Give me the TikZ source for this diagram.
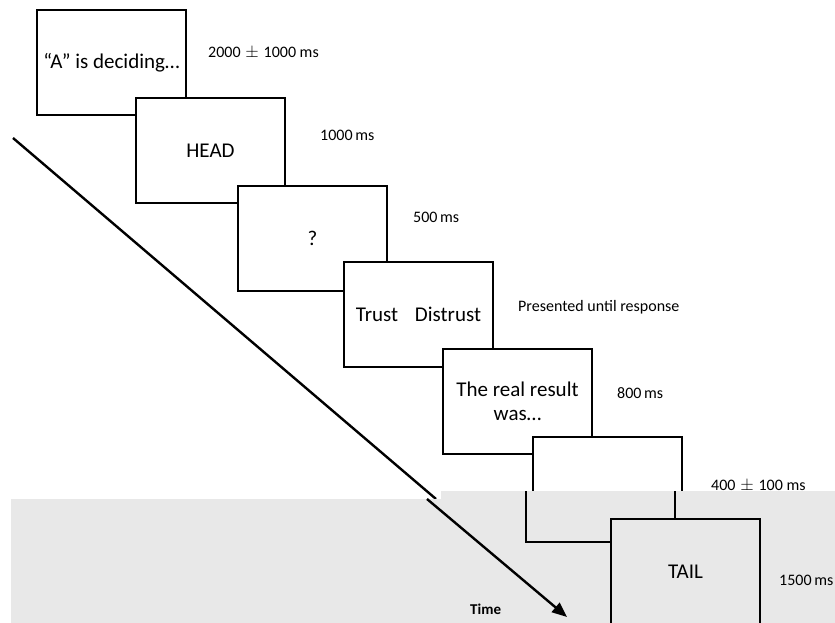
\documentclass[tikz,border=0pt]{standalone}
\usepackage{fontspec}
\setmainfont{Carlito}
\usetikzlibrary{arrows.meta}
\definecolor{bggray}{RGB}{232,232,232}
\newcommand{\pmsign}{\hspace{0.3em}{\fontsize{19}{19}\selectfont$\pm$}\hspace{0.3em}}
\tikzset{
  screen/.style={draw=black, line width=2.8pt, fill=white, minimum width=149pt, minimum height=105pt, inner sep=0pt, outer sep=0pt, font=\fontsize{21}{24}\selectfont, align=center},
  dur/.style={anchor=west, inner sep=0pt, font=\fontsize{16}{19}\selectfont},
  timeline/.style={line width=2.4pt}
}
\begin{document}
\begin{tikzpicture}[x=1pt,y=-1pt]
\useasboundingbox (0,0) rectangle (835,623);
% time axis upper part
\coordinate (t0) at (13,138);
\coordinate (t1) at (436,499);
\draw[timeline] (t0) -- (t1);
% screens
\node[screen] (s1) at (111.5,62.5) {“A” is deciding…};
\node[screen] (s2) at (210.5,150.5) {HEAD};
\node[screen] (s3) at (312.5,238.5) {?};
\node[screen] (s4) at (418.5,314.5) {Trust\hspace{0.8em}Distrust};
\node[screen] (s5) at (517.5,401.5) {The real result\\was…};
\node[screen] (s6) at (607.5,489.5) {};
% gray panel
\fill[bggray] (11,623) -- (11,499) -- (441,499) -- (441,491) -- (835,491) -- (835,623) -- cycle;
\begin{scope}
\clip (441,491) rectangle (835,623);
\node[screen, fill=bggray] (s6b) at (600.5,489.5) {};
\end{scope}
\node[screen, fill=bggray] (s7) at (685.5,571.5) {TAIL};
% time axis lower part
\coordinate (t2) at (427,499);
\coordinate (t3) at (567,617);
\draw[timeline, -{Triangle[length=15pt,width=12pt]}] (t2) -- (t3);
% durations
\node[dur] (d1) at (208,53) {2000\pmsign1000 ms};
\node[dur] (d2) at (320,135) {1000\,ms};
\node[dur] (d3) at (413,217) {500\,ms};
\node[dur] (d4) at (518,307) {Presented until response};
\node[dur] (d5) at (617,393) {800\,ms};
\node[dur] (d6) at (711,486) {400\pmsign100 ms};
\node[dur] (d7) at (779,580) {1500\,ms};
\node[dur, font=\fontsize{15}{17}\selectfont\bfseries] (tl) at (470,609) {Time};
\end{tikzpicture}
\end{document}
